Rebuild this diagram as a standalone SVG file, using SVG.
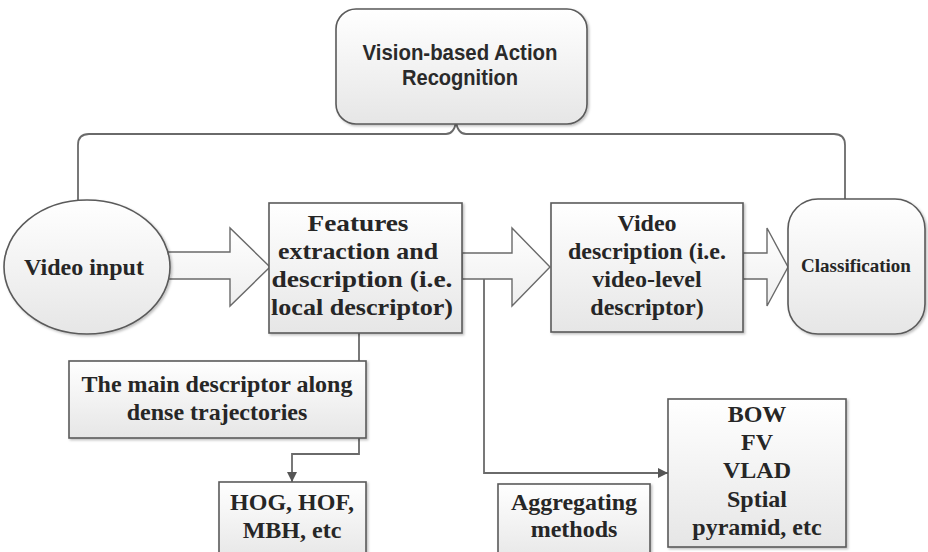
<svg xmlns="http://www.w3.org/2000/svg" width="928" height="552" viewBox="0 0 928 552">
<style>
.box{fill:url(#g);stroke:#5a5a5a;stroke-width:1.6}
.arr{fill:url(#ga);stroke:#6a6a6a;stroke-width:1.4}
.con{fill:none;stroke:#6a6a6a;stroke-width:1.8}
.t{font-family:"Liberation Serif","Times New Roman",serif;font-weight:bold;font-size:24px;fill:#262626;text-anchor:middle}
.s{font-family:"Liberation Sans",Arial,sans-serif;font-weight:bold;font-size:22px;fill:#2a2a2a;text-anchor:middle}
</style>
<defs>
<linearGradient id="g" x1="0" y1="0" x2="0" y2="1">
<stop offset="0" stop-color="#ffffff"/>
<stop offset="1" stop-color="#e6e6e6"/>
</linearGradient>
<linearGradient id="ga" x1="0" y1="0" x2="0" y2="1">
<stop offset="0" stop-color="#ffffff"/>
<stop offset="1" stop-color="#eeeeee"/>
</linearGradient>
<filter id="sh" x="-10%" y="-10%" width="130%" height="130%">
<feDropShadow dx="1.5" dy="1.5" stdDeviation="1.2" flood-color="#000" flood-opacity="0.25"/>
</filter>
<marker id="ah" viewBox="0 0 10 10" refX="10" refY="5" markerWidth="10" markerHeight="10" markerUnits="userSpaceOnUse" orient="auto">
<path d="M0,0 L10,5 L0,10 z" fill="#555"/>
</marker>
</defs>
<rect width="928" height="552" fill="#ffffff"/>

<g id="connectors">
<path class="con" d="M78,200 V145 Q78,134 89,134 H446 Q454,134 456,122 Q458,134 466,134 H834 Q845,134 845,145 V199"/>
<path class="con" d="M359,333 V361"/>
<path class="con" d="M359,438 V454 H292 V482" marker-end="url(#ah)"/>
<path class="con" d="M484,279 V473 H668" marker-end="url(#ah)"/>
<polygon id="arrow1" class="arr" points="160,252 230,252 230,228 270,267 230,306 230,279 160,279"/>
<polygon id="arrow2" class="arr" points="462,253 512,253 512,228 550,267 512,306 512,279 462,279"/>
<polygon id="arrow3" class="arr" points="743,253 767,253 767,228 788,267 767,306 767,279 743,279"/>
</g>

<g id="top">
<rect class="box" filter="url(#sh)" x="336" y="9" width="251" height="115" rx="20"/>
<text class="s" x="460" y="60" textLength="195" lengthAdjust="spacingAndGlyphs">Vision-based Action</text>
<text class="s" x="460" y="85" textLength="116" lengthAdjust="spacingAndGlyphs">Recognition</text>
</g>

<g id="video-input">
<ellipse class="box" filter="url(#sh)" cx="87" cy="267" rx="83" ry="67"/>
<text class="t" x="84" y="275">Video input</text>
</g>

<g id="features">
<rect class="box" filter="url(#sh)" x="269" y="203" width="193" height="130"/>
<text class="t" x="358" y="231" textLength="101" lengthAdjust="spacingAndGlyphs">Features</text>
<text class="t" x="358" y="259" textLength="160" lengthAdjust="spacingAndGlyphs">extraction and</text>
<text class="t" x="362" y="287" textLength="181" lengthAdjust="spacingAndGlyphs">description (i.e.</text>
<text class="t" x="362" y="315" textLength="182" lengthAdjust="spacingAndGlyphs">local descriptor)</text>
</g>

<g id="video-description">
<rect class="box" filter="url(#sh)" x="551" y="203" width="192" height="129"/>
<text class="t" x="647" y="231">Video</text>
<text class="t" x="647" y="259">description (i.e.</text>
<text class="t" x="647" y="287">video-level</text>
<text class="t" x="647" y="315">descriptor)</text>
</g>

<g id="classification">
<rect class="box" filter="url(#sh)" x="788" y="199" width="137" height="135" rx="30"/>
<text class="t" x="856" y="272" style="font-size:19px">Classification</text>
</g>

<g id="main-descriptor">
<rect class="box" filter="url(#sh)" x="69" y="361" width="297" height="77"/>
<text class="t" x="217" y="392">The main descriptor along</text>
<text class="t" x="217" y="420">dense trajectories</text>
</g>

<g id="hog">
<rect class="box" filter="url(#sh)" x="219" y="482" width="147" height="80"/>
<text class="t" x="292" y="510">HOG, HOF,</text>
<text class="t" x="292" y="538">MBH, etc</text>
</g>

<g id="aggregating">
<rect class="box" filter="url(#sh)" x="498" y="484" width="152" height="80"/>
<text class="t" x="574" y="510">Aggregating</text>
<text class="t" x="574" y="537">methods</text>
</g>

<g id="bow">
<rect class="box" filter="url(#sh)" x="668" y="399" width="178" height="148"/>
<text class="t" x="757" y="422">BOW</text>
<text class="t" x="757" y="450">FV</text>
<text class="t" x="757" y="478">VLAD</text>
<text class="t" x="757" y="507">Sptial</text>
<text class="t" x="757" y="535">pyramid, etc</text>
</g>
</svg>
